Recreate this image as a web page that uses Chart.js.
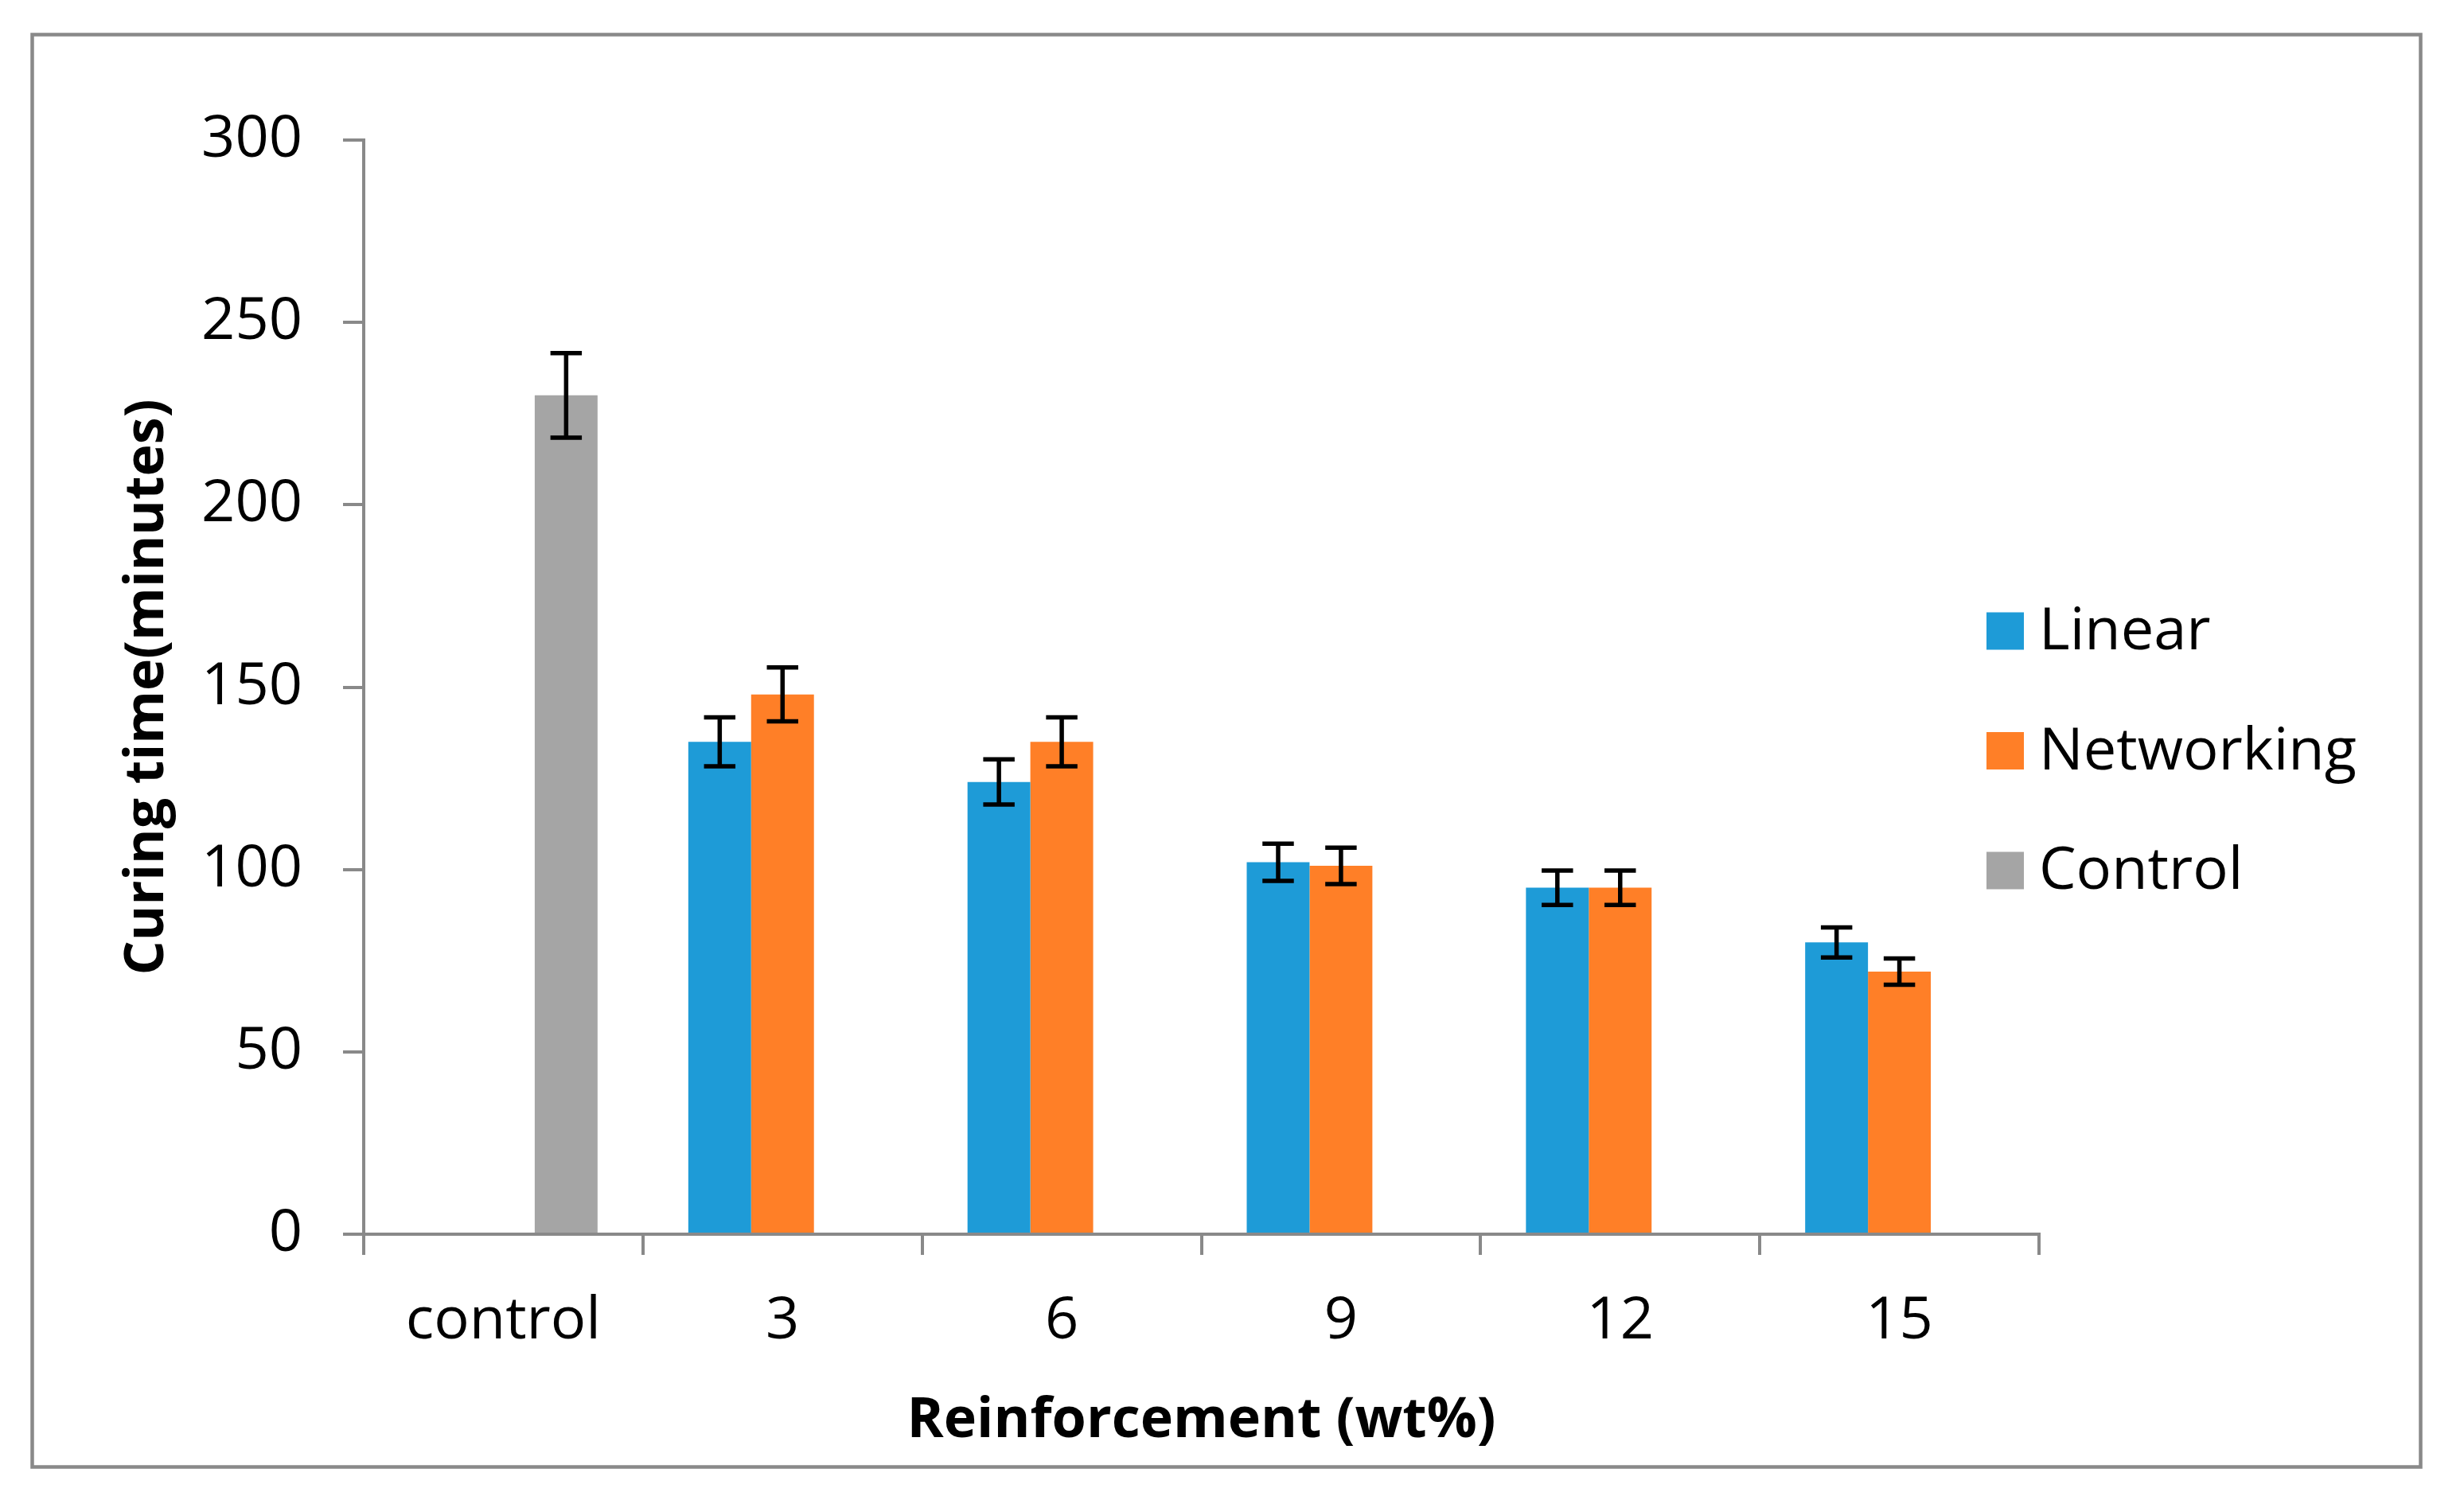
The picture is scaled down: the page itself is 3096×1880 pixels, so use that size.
<!DOCTYPE html>
<html>
<head>
<meta charset="utf-8">
<title>Curing time</title>
<script src="https://cdn.jsdelivr.net/npm/chart.js@4.4.1/dist/chart.umd.min.js"></script>
<style>
    html, body { margin: 0; padding: 0; background: #ffffff; }
    #contenitore { width: 3096px; height: 1880px; }
</style>
</head>
<body>
<div id="contenitore">
    <canvas id="graficoCuring" width="3096" height="1880"></canvas>
</div>
<script>
// Dati
const categorie = ["control", "3", "6", "9", "12", "15"];
const valoriLinear = [null, 135, 124, 102, 95, 80];
const erroriLinear = [null, 6.7, 6.2, 5.1, 4.7, 4.1];
const valoriNetworking = [null, 148, 135, 101, 95, 72];
const erroriNetworking = [null, 7.4, 6.7, 5.0, 4.7, 3.6];
const valoriControl = [230, null, null, null, null, null];
const erroriControl = [11.6, null, null, null, null, null];
const tickAsseY = [0, 50, 100, 150, 200, 250, 300];

const GRIGIO_ASSI = '#898989';
const FONT = "'Open Sans', 'Noto Sans', sans-serif";

//---[ PLUGIN BARRE DI ERRORE ]---
const barreErrore = {
    id: 'barreErrore',
    afterDatasetsDraw(chart) {
        const ctx = chart.ctx;
        const scalaY = chart.scales.y;
        ctx.save();
        ctx.strokeStyle = '#000000';
        ctx.lineWidth = 5.5;
        chart.data.datasets.forEach((ds, i) => {
            const meta = chart.getDatasetMeta(i);
            meta.data.forEach((bar, j) => {
                const v = ds.data[j];
                const e = ds.errori[j];
                if (v === null || e === null) return;
                const yAlto = scalaY.getPixelForValue(v + e);
                const yBasso = scalaY.getPixelForValue(v - e);
                const mezzo = bar.width / 4;
                ctx.beginPath();
                ctx.moveTo(bar.x, yAlto);
                ctx.lineTo(bar.x, yBasso);
                ctx.moveTo(bar.x - mezzo, yAlto);
                ctx.lineTo(bar.x + mezzo, yAlto);
                ctx.moveTo(bar.x - mezzo, yBasso);
                ctx.lineTo(bar.x + mezzo, yBasso);
                ctx.stroke();
            });
        });
        ctx.restore();
    }
};

//---[ PLUGIN LEGENDA E CORNICE ]---
const legendaECornice = {
    id: 'legendaECornice',
    afterDraw(chart) {
        const ctx = chart.ctx;
        ctx.save();
        // Cornice esterna grigia
        ctx.strokeStyle = GRIGIO_ASSI;
        ctx.lineWidth = 4.5;
        ctx.strokeRect(40.5, 43.5, 3001, 1800);

        // Legenda a destra
        const xQuadrato = chart.chartArea.right - 66;
        const xTesto = chart.chartArea.right;
        ctx.font = "74px " + FONT;
        ctx.textBaseline = 'middle';
        ctx.textAlign = 'left';
        chart.data.datasets.forEach((ds, i) => {
            const yRiga = 793 + i * 150.5;
            ctx.fillStyle = ds.backgroundColor;
            ctx.fillRect(xQuadrato, yRiga - 23.5, 47, 47);
            ctx.fillStyle = '#000000';
            ctx.fillText(ds.label, xTesto, yRiga + 2);
        });
        ctx.restore();
    }
};

const data = {
    labels: categorie,
    datasets: [
        { label: 'Linear', data: valoriLinear, errori: erroriLinear, backgroundColor: '#1E9BD7' },
        { label: 'Networking', data: valoriNetworking, errori: erroriNetworking, backgroundColor: '#FF7F27' },
        { label: 'Control', data: valoriControl, errori: erroriControl, backgroundColor: '#A5A5A5' }
    ]
};

const options = {
    responsive: false,
    devicePixelRatio: 1,
    animation: false,
    layout: {
        padding: { top: 176, right: 534, left: 0, bottom: 0 }
    },
    datasets: {
        bar: {
            categoryPercentage: 0.675,
            barPercentage: 1.0,
            borderWidth: 0
        }
    },
    plugins: {
        legend: { display: false },
        tooltip: { enabled: false }
    },
    scales: {
        x: {
            afterFit(scale) { scale.height = 329; },
            grid: {
                offset: true,
                drawOnChartArea: false,
                drawTicks: true,
                tickLength: 26,
                color: GRIGIO_ASSI,
                lineWidth: 4
            },
            border: { color: GRIGIO_ASSI, width: 4 },
            ticks: {
                color: '#000000',
                padding: 40,
                font: { family: FONT, size: 74 }
            },
            title: {
                display: true,
                text: 'Reinforcement (wt%)',
                color: '#000000',
                padding: { top: 0, bottom: 52 },
                font: { family: FONT, size: 70, weight: 'bold' }
            }
        },
        y: {
            min: 0,
            max: 300,
            afterFit(scale) { scale.width = 457; },
            afterBuildTicks(scale) {
                scale.ticks = tickAsseY.map(v => ({ value: v }));
            },
            grid: {
                drawOnChartArea: false,
                drawTicks: true,
                tickLength: 26,
                color: GRIGIO_ASSI,
                lineWidth: 4
            },
            border: { color: GRIGIO_ASSI, width: 4 },
            ticks: {
                color: '#000000',
                padding: 51,
                font: { family: FONT, size: 74 }
            },
            title: {
                display: true,
                text: 'Curing time(minutes)',
                color: '#000000',
                padding: { top: 145, bottom: 0 },
                font: { family: FONT, size: 68, weight: 'bold' }
            }
        }
    }
};

// Crea il grafico
const ctx = document.getElementById('graficoCuring').getContext('2d');
new Chart(ctx, {
    type: 'bar',
    data: data,
    options: options,
    plugins: [barreErrore, legendaECornice]
});
</script>
</body>
</html>
